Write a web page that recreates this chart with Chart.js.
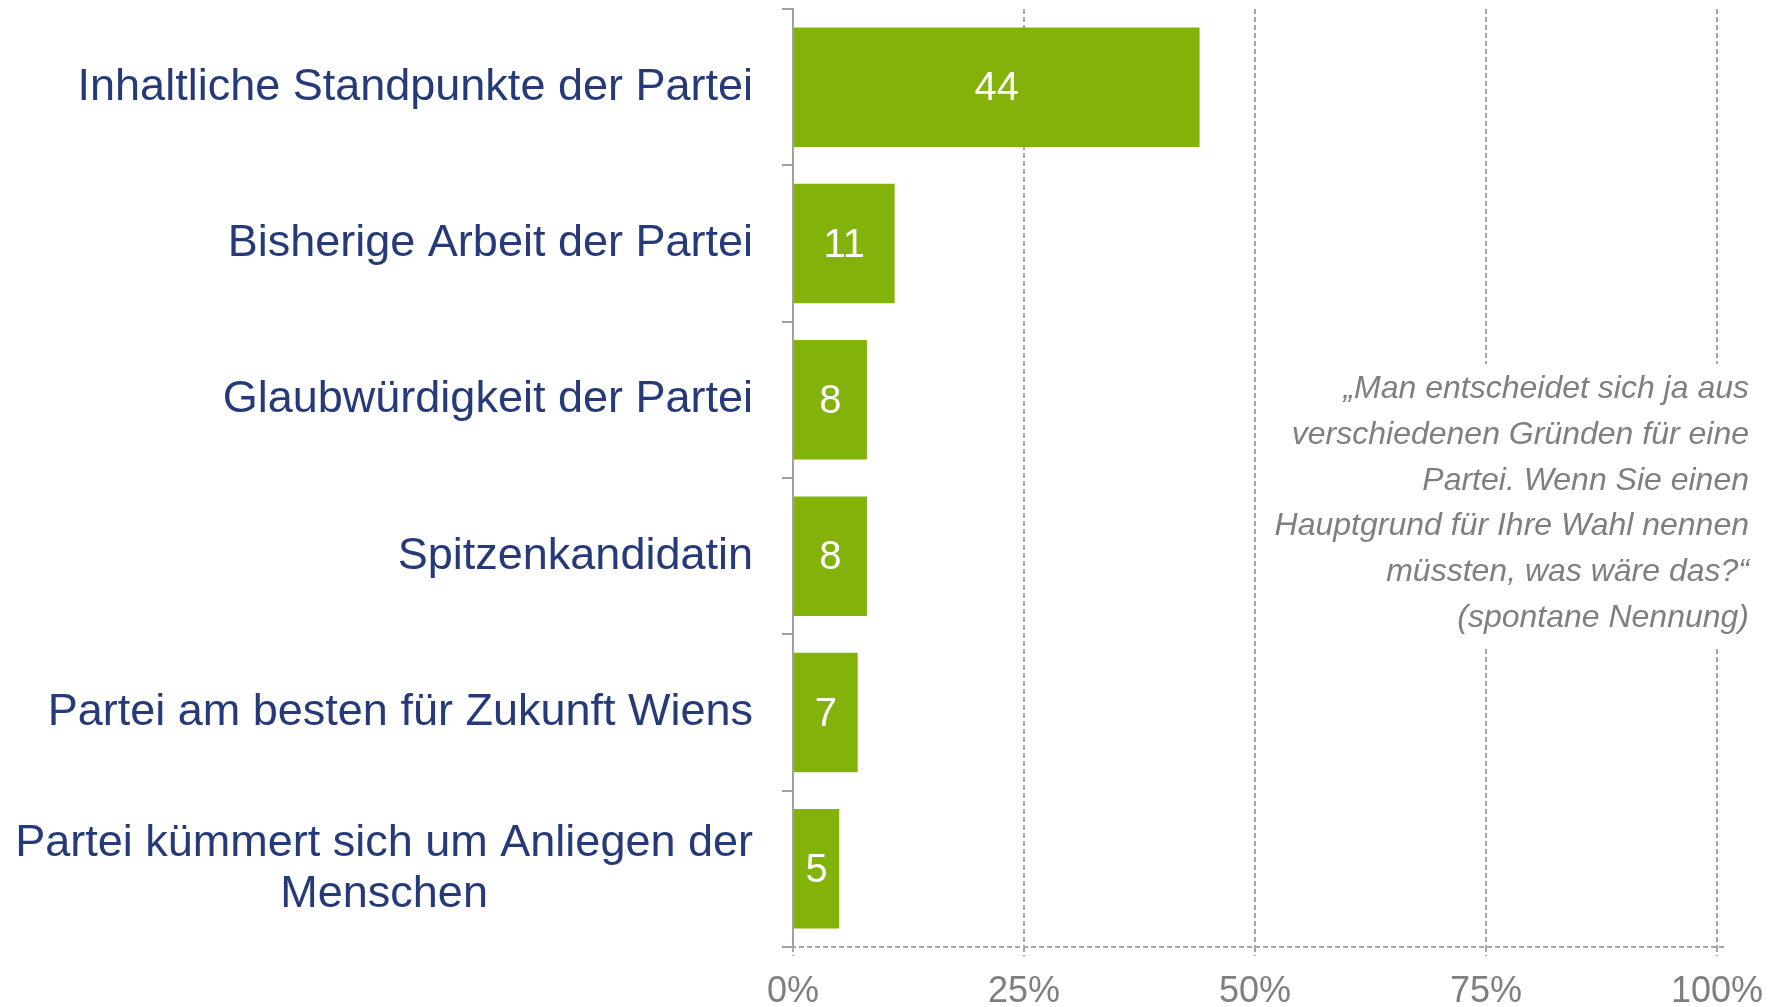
<!DOCTYPE html>
<html>
<head>
<meta charset="utf-8">
<script src="https://cdn.jsdelivr.net/npm/chart.js@4/dist/chart.umd.min.js"></script>
<style>
html,body{margin:0;padding:0;background:#fff;}
#wrap{width:1783px;height:1007px;position:relative;}
</style>
</head>
<body>
<div id="wrap"><canvas id="c"></canvas></div>
<script>
const categories = [
  ["Inhaltliche Standpunkte der Partei"],
  ["Bisherige Arbeit der Partei"],
  ["Glaubwürdigkeit der Partei"],
  ["Spitzenkandidatin"],
  ["Partei am besten für Zukunft Wiens"],
  ["Partei kümmert sich um Anliegen der", "Menschen"]
];
const values = [44, 11, 8, 8, 7, 5];
const xTicks = [0, 25, 50, 75, 100];
const noteLines = [
  "„Man entscheidet sich ja aus",
  "verschiedenen Gründen für eine",
  "Partei. Wenn Sie einen",
  "Hauptgrund für Ihre Wahl nennen",
  "müssten, was wäre das?“",
  "(spontane Nennung)"
];

const FONT = "'Liberation Sans', Arial, Helvetica, sans-serif";
const GRID = '#A6A6A6';

const labelPlugin = {
  id: 'customLabels',
  beforeDatasetsDraw(chart) {
    // dashed bottom axis line, slightly longer than the plot
    const ctx = chart.ctx;
    const x = chart.scales.x;
    const b = chart.chartArea.bottom;
    ctx.save();
    ctx.strokeStyle = GRID;
    ctx.lineWidth = 2;
    ctx.setLineDash([5, 3]);
    ctx.beginPath();
    ctx.moveTo(x.getPixelForValue(0) - 10, b);
    ctx.lineTo(x.getPixelForValue(100) + 10, b);
    ctx.stroke();
    ctx.restore();
  },
  afterDraw(chart) {
    const ctx = chart.ctx;
    const y = chart.scales.y;
    ctx.save();
    // category labels
    ctx.font = '45px ' + FONT;
    ctx.fillStyle = '#263A7A';
    ctx.textBaseline = 'middle';
    const right = 753;
    const lh = 51;
    categories.forEach((lines, i) => {
      const cy = y.getPixelForTick(i);
      const widths = lines.map(l => ctx.measureText(l).width);
      const maxW = Math.max(...widths);
      const y0 = cy - (lines.length - 1) * lh / 2;
      lines.forEach((l, j) => {
        if (lines.length === 1) {
          ctx.textAlign = 'right';
          ctx.fillText(l, right, y0 + j * lh);
        } else {
          ctx.textAlign = 'center';
          ctx.fillText(l, right - maxW / 2, y0 + j * lh);
        }
      });
    });
    // data labels
    const meta = chart.getDatasetMeta(0);
    ctx.font = '40px ' + FONT;
    ctx.fillStyle = '#FFFFFF';
    ctx.textAlign = 'center';
    meta.data.forEach((bar, i) => {
      const p = bar.getProps(['x', 'y', 'base'], true);
      ctx.fillText(String(values[i]), (p.x + p.base) / 2, p.y + 2);
    });
    // note box (white background hides grid lines behind it)
    ctx.fillStyle = '#FFFFFF';
    ctx.fillRect(1268, 364, 505, 283);
    ctx.font = 'italic 32px ' + FONT;
    ctx.fillStyle = '#7F7F7F';
    ctx.textAlign = 'right';
    noteLines.forEach((l, i) => {
      ctx.fillText(l, 1749, 389 + i * 45.8);
    });
    ctx.restore();
  }
};

new Chart(document.getElementById('c'), {
  type: 'bar',
  data: {
    labels: categories,
    datasets: [{
      data: values,
      backgroundColor: '#83B20B',
      borderWidth: 0,
      barPercentage: 0.764,
      categoryPercentage: 1
    }]
  },
  options: {
    indexAxis: 'y',
    responsive: true,
    maintainAspectRatio: false,
    animation: false,
    layout: { padding: { top: 9, right: 66, left: 0, bottom: 0 } },
    plugins: { legend: { display: false }, tooltip: { enabled: false } },
    scales: {
      x: {
        min: 0, max: 100,
        afterBuildTicks(scale) { scale.ticks = xTicks.map(v => ({ value: v })); },
        afterFit(scale) { scale.height = 60; },
        ticks: {
          callback: v => v + '%',
          color: '#7F7F7F',
          font: { family: FONT, size: 36 },
          padding: 14,
          maxRotation: 0
        },
        grid: {
          color: ctx => ctx.index === 0 ? 'rgba(0,0,0,0)' : GRID,
          lineWidth: 2,
          tickLength: 9,
          tickColor: GRID,
          drawOnChartArea: true,
          tickBorderDash: [5, 3]
        },
        border: { display: false, dash: [5, 3] }
      },
      y: {
        type: 'category',
        offset: true,
        afterFit(scale) { scale.width = 793; },
        ticks: { display: false },
        grid: {
          offset: true,
          drawOnChartArea: false,
          drawTicks: true,
          tickLength: 11,
          color: '#A0A0A0',
          lineWidth: 2
        },
        border: { display: true, color: '#A0A0A0', width: 2 }
      }
    }
  },
  plugins: [labelPlugin]
});
</script>
</body>
</html>
